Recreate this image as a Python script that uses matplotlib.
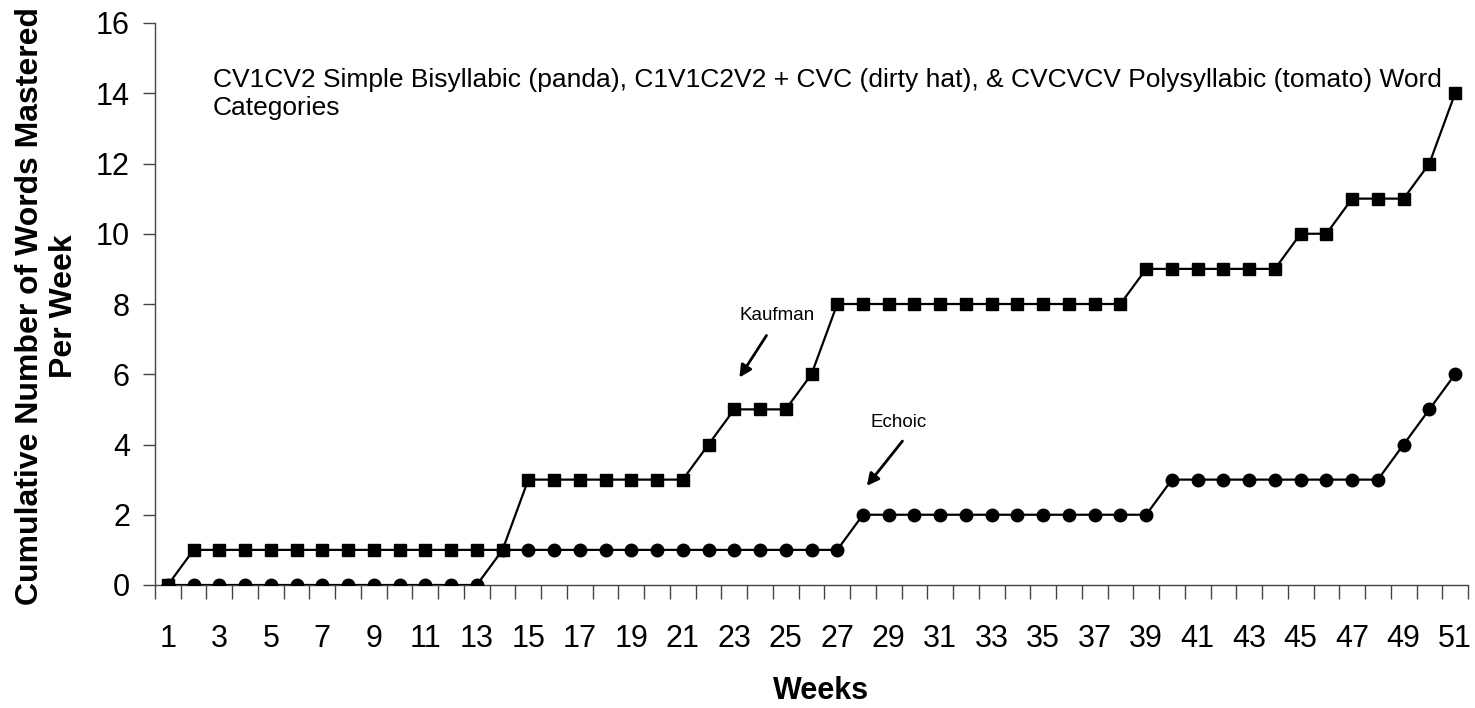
import numpy as np
import matplotlib.pyplot as plt

plt.rcParams['font.family'] = ['Liberation Sans', 'DejaVu Sans']

# weekly cumulative counts
weeks = list(range(1, 52))
kaufman = [0] + [1] * 13 + [3] * 7 + [4] + [5] * 3 + [6] + [8] * 12 + [9] * 6 + [10] * 2 + [11] * 3 + [12, 14]
echoic = [0] * 13 + [1] * 14 + [2] * 12 + [3] * 9 + [4, 5, 6]

title_text = ("CV1CV2 Simple Bisyllabic (panda), C1V1C2V2 + CVC (dirty hat), & CVCVCV Polysyllabic (tomato) Word\n"
              "Categories")

fig = plt.figure(figsize=(14.75, 7.08), dpi=100)
ax = fig.add_axes([155 / 1475, 1 - 585 / 708, (1468 - 155) / 1475, (585 - 23) / 708])

ax.plot(weeks, echoic, color='black', lw=1.6, marker='o', ms=9, zorder=3)
ax.plot(weeks, kaufman, color='black', lw=1.6, marker='s', ms=8.5, zorder=4)

ax.set_xlim(0.5, 51.5)
ax.set_ylim(0, 16)
ax.set_yticks(np.arange(0, 17, 2))

# tick marks on the category boundaries, labels on odd weeks
ax.set_xticks(np.arange(0.5, 52, 1))
ax.set_xticklabels([])
ax.set_xticks(weeks[::2], minor=True)
ax.set_xticklabels([str(w) for w in weeks[::2]], minor=True)
ax.tick_params(axis='x', which='major', direction='out', length=10, width=1, color='#444444')
ax.tick_params(axis='x', which='minor', length=0, pad=28, labelsize=22)
ax.tick_params(axis='y', direction='out', length=9, width=1, color='#444444', pad=9, labelsize=22)

for s in ['top', 'right']:
    ax.spines[s].set_visible(False)
for s in ['left', 'bottom']:
    ax.spines[s].set_color('#444444')
    ax.spines[s].set_linewidth(1)

fig.text(47 / 1475, 1 - 306 / 708, "Cumulative Number of Words Mastered\nPer Week",
         rotation=90, ha='center', va='center', fontsize=23, fontweight='bold', linespacing=1.2)
fig.text(821 / 1475, 1 - 691 / 708, "Weeks", ha='center', va='center', fontsize=22, fontweight='bold')

ax.text(2.75, 14.72, title_text, ha='left', va='top', fontsize=19, linespacing=1.2)

ax.annotate("", xy=(23.14, 5.84), xytext=(24.31, 7.17),
            arrowprops=dict(arrowstyle='-|>', color='black', lw=2, mutation_scale=18))
ax.text(24.66, 7.66, "Kaufman", ha='center', va='center', fontsize=13.5)
ax.annotate("", xy=(28.08, 2.76), xytext=(29.6, 4.16),
            arrowprops=dict(arrowstyle='-|>', color='black', lw=2, mutation_scale=18))
ax.text(29.4, 4.64, "Echoic", ha='center', va='center', fontsize=13.5)

fig.savefig('out.png', dpi=100)
